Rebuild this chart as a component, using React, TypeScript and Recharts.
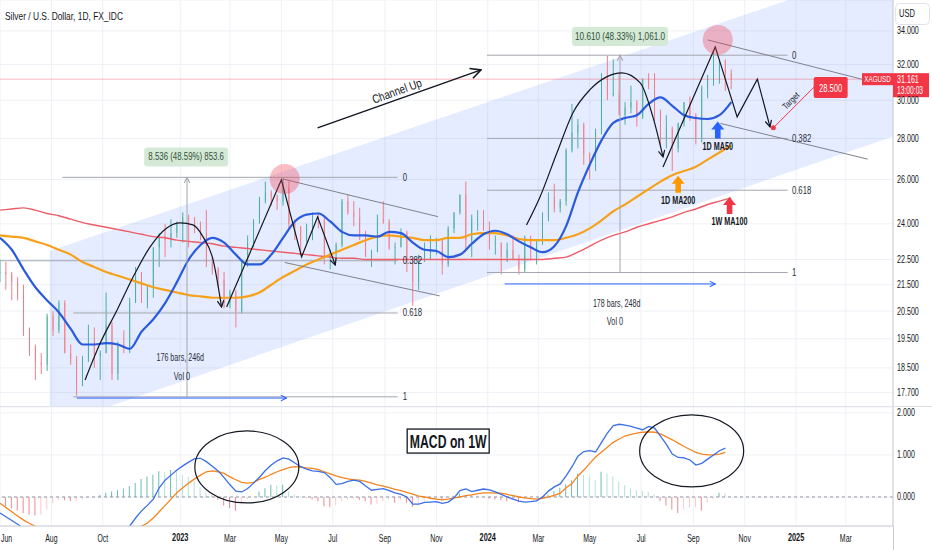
import React from 'react';
import {
  ComposedChart, Bar, Line, Area, XAxis, YAxis, CartesianGrid,
  ReferenceLine, ReferenceDot, Cell,
} from 'recharts';

const FONT = "'Liberation Sans', Arial, sans-serif";
const INK = '#131722';
const GRID = '#eef1f6';
const UP = '#4cae9f';
const DOWN = '#ef7d87';
const BLUE = '#2a5bde';
const ORANGE = '#f7a11a';
const RED_MA = '#ec5d67';
const FIB = '#a3a6af';
const RANGE_BLUE = '#2962ff';
const TV_RED = '#f23645';

// ---------- categories ----------
const START = '2022-06-01';
const SPAN_DAYS = 1060;
const WEEK = 7;
const MA_STEP = 14;
const tickDates = ['2022-06-01', '2022-08-01', '2022-10-01', '2023-01-01', '2023-03-01', '2023-05-01', '2023-07-01', '2023-09-01', '2023-11-01', '2024-01-01', '2024-03-01', '2024-05-01', '2024-07-01', '2024-09-01', '2024-11-01', '2025-01-01', '2025-03-01'];
const tickLabels = ['Jun', 'Aug', 'Oct', '2023', 'Mar', 'May', 'Jul', 'Sep', 'Nov', '2024', 'Mar', 'May', 'Jul', 'Sep', 'Nov', '2025', 'Mar'];
const priceTicks = [17.7, 18.5, 19.5, 20.5, 21.5, 22.5, 24, 26, 28, 30, 32, 34];
const macdTicks = [0, 1, 2];
const lastPrice = 31.161;
const lastTimer = '13:00:03';
const targetPrice = 28.5;

// ---------- weekly candles (Jun 2022 - Oct 2024) ----------
const opens = [22.0, 22.0, 21.9, 21.6, 21.1, 19.8, 19.2, 18.7, 18.6, 20.3, 19.8, 20.8, 19.0, 18.8, 18.0, 18.8, 19.4, 18.9, 19.0, 20.0, 18.3, 19.3, 19.2, 20.8, 21.8, 20.9, 21.4, 23.0, 23.5, 23.3, 23.6, 24.0, 24.3, 24.2, 23.9, 23.6, 22.4, 22.1, 21.7, 20.8, 21.2, 20.5, 22.4, 23.2, 24.1, 25.0, 25.4, 25.2, 25.0, 25.6, 24.0, 23.9, 23.3, 23.9, 24.3, 24.2, 22.7, 22.8, 23.1, 25.0, 24.5, 24.3, 23.6, 22.7, 22.8, 24.2, 24.1, 23.0, 23.0, 23.6, 22.4, 21.6, 22.6, 23.0, 23.3, 23.3, 22.3, 23.8, 24.5, 25.3, 23.3, 24.2, 24.2, 23.8, 23.2, 23.2, 22.6, 22.9, 22.5, 22.1, 23.4, 22.9, 23.2, 24.3, 25.2, 24.7, 25.0, 27.4, 28.3, 28.7, 27.2, 26.6, 28.3, 31.3, 30.3, 30.4, 29.2, 29.6, 29.9, 29.1, 31.1, 30.8, 29.2, 28.0, 28.5, 27.5, 28.8, 29.9, 29.2, 28.0, 30.7, 31.3, 31.6, 32.2, 31.5];
const highs = [22.5, 22.4, 22.0, 21.8, 21.5, 19.9, 19.3, 19.0, 20.4, 20.5, 20.9, 20.9, 19.3, 18.9, 18.9, 20.0, 19.9, 19.1, 21.2, 20.1, 19.4, 19.8, 21.0, 22.2, 22.0, 21.5, 23.0, 23.6, 24.0, 24.2, 24.1, 24.5, 24.4, 24.3, 24.1, 24.6, 22.6, 22.2, 22.0, 21.3, 21.3, 22.4, 23.5, 24.2, 25.2, 25.9, 25.5, 25.3, 26.1, 25.9, 24.2, 23.9, 24.0, 24.5, 24.5, 24.3, 22.9, 23.2, 25.1, 25.3, 25.0, 24.7, 23.7, 22.9, 24.4, 25.0, 24.2, 23.2, 23.8, 23.7, 22.5, 22.7, 23.2, 23.5, 23.4, 23.3, 23.9, 24.5, 25.3, 25.9, 24.4, 24.6, 24.6, 24.1, 23.5, 23.2, 23.2, 23.5, 22.7, 23.5, 23.5, 23.3, 24.5, 25.4, 25.8, 25.1, 27.5, 29.8, 29.0, 28.8, 27.3, 28.5, 31.5, 32.5, 32.3, 31.5, 29.9, 30.8, 30.0, 31.2, 31.5, 31.5, 29.5, 29.2, 28.6, 28.8, 29.9, 30.2, 29.3, 30.8, 31.4, 32.8, 32.2, 32.3, 31.7];
const lows = [21.6, 21.3, 20.9, 20.9, 19.6, 18.9, 18.1, 18.3, 18.4, 19.6, 19.7, 19.0, 18.6, 17.6, 17.9, 18.7, 18.5, 18.1, 19.0, 18.1, 18.1, 19.0, 19.0, 20.8, 20.8, 20.6, 21.0, 22.2, 22.6, 23.0, 23.4, 23.2, 23.0, 23.6, 23.3, 22.2, 21.9, 21.4, 20.6, 20.6, 19.9, 20.4, 22.2, 23.0, 24.0, 24.9, 24.8, 24.6, 24.8, 23.8, 23.3, 22.7, 23.2, 23.3, 23.8, 22.3, 22.1, 22.5, 23.0, 24.4, 23.9, 23.3, 22.6, 22.2, 22.8, 24.0, 22.9, 22.3, 23.0, 22.0, 20.7, 21.3, 22.4, 22.5, 22.7, 21.9, 22.2, 23.6, 24.4, 22.9, 22.6, 23.7, 23.7, 22.9, 22.7, 21.9, 22.4, 22.5, 21.9, 22.0, 22.5, 22.3, 23.1, 24.1, 24.5, 24.5, 24.8, 27.3, 27.5, 26.7, 26.0, 26.4, 28.2, 30.0, 30.2, 29.2, 28.7, 29.3, 28.6, 29.0, 30.6, 28.9, 27.6, 27.5, 26.4, 27.3, 28.6, 28.9, 27.7, 27.8, 30.1, 30.8, 30.9, 30.5, 30.6];
const closes = [22.0, 21.9, 21.6, 21.1, 19.8, 19.2, 18.7, 18.6, 20.3, 19.8, 20.8, 19.0, 18.8, 18.0, 18.8, 19.4, 18.9, 19.0, 20.0, 18.3, 19.3, 19.2, 20.8, 21.8, 20.9, 21.4, 23.0, 23.5, 23.3, 23.6, 24.0, 24.3, 24.2, 23.9, 23.6, 22.4, 22.1, 21.7, 20.8, 21.2, 20.5, 22.4, 23.2, 24.1, 25.0, 25.4, 25.2, 25.0, 25.6, 24.0, 23.9, 23.3, 23.9, 24.3, 24.2, 22.7, 22.8, 23.1, 25.0, 24.5, 24.3, 23.6, 22.7, 22.8, 24.2, 24.1, 23.0, 23.0, 23.6, 22.4, 21.6, 22.6, 23.0, 23.3, 23.3, 22.3, 23.8, 24.5, 25.3, 23.3, 24.2, 24.2, 23.8, 23.2, 23.2, 22.6, 22.9, 22.5, 22.1, 23.4, 22.9, 23.2, 24.3, 25.2, 24.7, 25.0, 27.4, 28.3, 28.7, 27.2, 26.6, 28.3, 31.3, 30.3, 30.4, 29.2, 29.6, 29.9, 29.1, 31.1, 30.8, 29.2, 28.0, 28.5, 27.5, 28.8, 29.9, 29.2, 28.0, 30.7, 31.3, 31.6, 32.2, 31.5, 31.2];

// ---------- moving averages (every 2 weeks) ----------
const ma50 = [23.4, 22.9, 22.1, 21.4, 20.9, 20.45, 19.85, 19.3, 19.3, 19.35, 19.3, 19.15, 19.75, 20.2, 20.8, 21.6, 22.5, 23.1, 23.4, 23.2, 22.7, 22.3, 22.3, 22.7, 23.4, 24.1, 24.4, 24.45, 24.1, 23.65, 23.5, 23.5, 23.45, 23.65, 23.6, 23.2, 22.9, 22.85, 22.6, 22.7, 23.15, 23.55, 23.7, 23.55, 23.25, 23.0, 22.8, 23.05, 23.9, 25.4, 26.7, 27.9, 28.8, 29.05, 29.2, 29.8, 30.15, 29.7, 29.2, 29.05, 29.0, 29.2, 29.9];
const ma200 = [23.5, 23.45, 23.4, 23.25, 23.1, 22.9, 22.7, 22.4, 22.2, 22.0, 21.85, 21.7, 21.55, 21.4, 21.3, 21.2, 21.1, 21.05, 21.0, 21.0, 21.0, 21.05, 21.2, 21.5, 21.8, 22.05, 22.3, 22.5, 22.7, 22.9, 23.1, 23.3, 23.45, 23.5, 23.45, 23.4, 23.3, 23.3, 23.4, 23.4, 23.55, 23.6, 23.6, 23.5, 23.35, 23.3, 23.3, 23.3, 23.4, 23.55, 23.8, 24.15, 24.55, 24.85, 25.2, 25.55, 25.9, 26.2, 26.4, 26.6, 26.95, 27.3, 27.65];
const ma100w = [24.6, 24.65, 24.7, 24.6, 24.45, 24.35, 24.2, 24.05, 23.95, 23.85, 23.75, 23.65, 23.55, 23.45, 23.4, 23.3, 23.25, 23.2, 23.15, 23.05, 23.0, 22.95, 22.9, 22.85, 22.8, 22.75, 22.7, 22.65, 22.6, 22.55, 22.55, 22.5, 22.5, 22.5, 22.5, 22.5, 22.5, 22.5, 22.5, 22.5, 22.5, 22.5, 22.5, 22.5, 22.5, 22.5, 22.5, 22.55, 22.6, 22.8, 23.05, 23.3, 23.5, 23.65, 23.85, 24.0, 24.15, 24.3, 24.5, 24.65, 24.85, 25.0, 25.15];

// ---------- MACD 1W (weekly) ----------
const macdLine = [-0.38, -0.47, -0.56, -0.65, -0.75, -0.85, -0.95, -1.02, -1.05, -1.05, -1.02, -1.02, -1.05, -1.08, -1.08, -1.05, -1.02, -0.98, -0.92, -0.9, -0.85, -0.78, -0.69, -0.5, -0.33, -0.2, -0.05, 0.22, 0.4, 0.52, 0.64, 0.74, 0.83, 0.91, 0.92, 0.84, 0.73, 0.62, 0.46, 0.29, 0.14, 0.12, 0.2, 0.33, 0.47, 0.63, 0.76, 0.86, 0.93, 0.9, 0.81, 0.72, 0.66, 0.62, 0.61, 0.58, 0.46, 0.3, 0.32, 0.37, 0.4, 0.37, 0.26, 0.16, 0.18, 0.2, 0.15, 0.1, 0.06, 0.0, -0.17, -0.17, -0.13, -0.12, -0.11, -0.15, -0.12, -0.02, 0.15, 0.19, 0.13, 0.16, 0.19, 0.17, 0.12, 0.06, 0.0, -0.05, -0.1, -0.12, -0.11, -0.09, 0.0, 0.14, 0.24, 0.31, 0.5, 0.72, 0.97, 1.08, 1.1, 1.07, 1.3, 1.52, 1.7, 1.73, 1.71, 1.68, 1.64, 1.6, 1.68, 1.64, 1.45, 1.25, 1.02, 0.94, 0.93, 0.88, 0.76, 0.8, 0.9, 1.0, 1.1, 1.16];
const signalLine = [-0.15, -0.25, -0.35, -0.45, -0.55, -0.63, -0.7, -0.77, -0.83, -0.88, -0.92, -0.95, -0.97, -0.99, -1.0, -1.01, -1.01, -1.0, -0.99, -0.97, -0.95, -0.91, -0.87, -0.8, -0.7, -0.62, -0.5, -0.35, -0.2, -0.05, 0.1, 0.22, 0.33, 0.43, 0.52, 0.6, 0.62, 0.6, 0.56, 0.48, 0.41, 0.35, 0.33, 0.35, 0.42, 0.47, 0.54, 0.6, 0.65, 0.7, 0.72, 0.71, 0.69, 0.68, 0.65, 0.6, 0.55, 0.5, 0.46, 0.43, 0.41, 0.4, 0.37, 0.33, 0.29, 0.26, 0.22, 0.18, 0.15, 0.11, 0.07, 0.02, 0.0, -0.03, -0.05, -0.07, -0.05, -0.02, 0.0, 0.03, 0.05, 0.08, 0.1, 0.1, 0.09, 0.09, 0.06, 0.03, 0.0, -0.02, -0.04, -0.05, -0.03, 0.0, 0.04, 0.09, 0.22, 0.32, 0.5, 0.64, 0.8, 0.95, 1.07, 1.18, 1.3, 1.38, 1.45, 1.49, 1.52, 1.54, 1.55, 1.54, 1.5, 1.43, 1.36, 1.28, 1.2, 1.13, 1.06, 1.02, 1.0, 1.0, 1.02, 1.06];
const histogram = [-0.18, -0.22, -0.28, -0.33, -0.38, -0.42, -0.44, -0.42, -0.3, -0.15, -0.06, -0.08, -0.1, -0.1, -0.06, -0.03, 0.0, 0.05, 0.1, 0.13, 0.16, 0.2, 0.26, 0.33, 0.43, 0.49, 0.53, 0.61, 0.59, 0.64, 0.61, 0.53, 0.48, 0.37, 0.24, 0.13, 0.06, -0.06, -0.2, -0.26, -0.33, -0.18, -0.05, 0.0, 0.13, 0.21, 0.29, 0.27, 0.29, 0.13, 0.06, 0.01, -0.02, -0.06, -0.1, -0.22, -0.24, -0.2, -0.1, -0.06, -0.05, -0.07, -0.1, -0.18, -0.16, -0.1, -0.06, -0.14, -0.06, -0.14, -0.24, -0.16, -0.1, -0.05, -0.04, -0.08, -0.02, 0.03, 0.08, 0.06, 0.05, 0.04, 0.01, -0.04, -0.06, -0.08, -0.1, -0.08, -0.12, -0.04, -0.02, 0.0, 0.02, 0.06, 0.14, 0.22, 0.3, 0.4, 0.55, 0.52, 0.48, 0.4, 0.6, 0.56, 0.49, 0.36, 0.28, 0.2, 0.16, 0.14, 0.12, 0.06, -0.1, -0.2, -0.3, -0.38, -0.3, -0.25, -0.24, -0.33, -0.14, -0.04, 0.1, 0.08];

// ---------- drawings (day, price) ----------
const channelBand = [{ t: 59, band: [16.63, 22.85] }, { t: SPAN_DAYS, band: [28.1, 38.33] }];
const fibLevels = ['0', '0.382', '0.618', '1'];
const fibLeftPrices = [26.1, 22.45, 20.43, 17.56];
const fibLeftStarts = [74, 0, 87, 87];
const fibLeftEnd = 472;
const fibLeftLabelDay = 478;
const fibRightPrices = [32.54, 28.0, 25.5, 21.98];
const fibRightStart = 578;
const fibRightEnd = 935;
const fibRightLabelDay = 940;

const arcLeftDays = [101, 119, 139, 158, 178, 198, 214, 229, 241, 253, 263];
const arcLeftPrices = [18.1, 19.35, 20.54, 21.8, 23.01, 23.82, 24.04, 23.95, 23.44, 22.48, 20.65];
const zigLeftDays = [269, 334, 358, 377, 398];
const zigLeftPrices = [20.65, 25.98, 22.61, 24.3, 22.28];
const arcRightDays = [625, 641, 661, 680, 700, 720, 738, 760, 775, 787];
const arcRightPrices = [23.95, 25.19, 27.27, 29.32, 30.56, 31.29, 31.52, 30.95, 29.11, 27.08];
const zigRightDays = [787, 849, 875, 899, 914];
const zigRightPrices = [26.59, 33.03, 29.11, 31.16, 28.59];

const pts = (days: number[], prices: number[]) => days.map((t, k) => ({ t, p: prices[k] }));
const arcLeft = pts(arcLeftDays, arcLeftPrices);
const zigLeft = pts(zigLeftDays, zigLeftPrices);
const arcRight = pts(arcRightDays, arcRightPrices);
const zigRight = pts(zigRightDays, zigRightPrices);

const dayOf = (s: string) => Math.round((Date.parse(s + 'T00:00:00Z') - Date.parse(START + 'T00:00:00Z')) / 86400000);
const tickDays = tickDates.map(dayOf);

const priceRows = opens.map((o, i) => ({ t: i * WEEK, o, h: highs[i], l: lows[i], c: closes[i] }));
const maRows = ma50.map((v, k) => ({ t: k * MA_STEP, ma50: v, ma200: ma200[k], ma100w: ma100w[k] }));
const macdRows = macdLine.map((m, i) => ({ t: i * WEEK, macd: m, signal: signalLine[i], hist: histogram[i] }));

// ---------- helpers ----------
const CText = ({ x, y, text, size = 10, sx = 0.75, weight = 400, fill = INK, anchor = 'middle', rotate = 0 }: any) => (
  <text
    transform={`translate(${x},${y}) rotate(${rotate}) scale(${sx},1)`}
    fontSize={size}
    fontWeight={weight}
    fill={fill}
    textAnchor={anchor}
    dominantBaseline="central"
    fontFamily={FONT}
  >
    {text}
  </text>
);

const candleRange = (d: any) => [d.l, d.h];

const renderCandle = (p: any) => {
  const { x, y, width, height, payload } = p;
  if (!payload || !isFinite(y) || !isFinite(height)) return <g />;
  const { o, h, l, c } = payload;
  const lh = Math.log(h);
  const span = lh - Math.log(l) || 1;
  const py = (v: number) => y + ((lh - Math.log(v)) / span) * height;
  const color = c >= o ? UP : DOWN;
  const mid = x + width / 2;
  const top = py(Math.max(o, c));
  const bot = py(Math.min(o, c));
  return (
    <g>
      <line x1={mid} x2={mid} y1={y} y2={y + height} stroke={color} strokeWidth={1} />
      <rect x={x} y={top} width={width} height={Math.max(1, bot - top)} fill={color} />
    </g>
  );
};

const PriceTick = (p: any) => (
  <CText x={p.x} y={p.y} text={Number(p.payload.value).toFixed(3)} size={10.5} sx={0.68} anchor="start" />
);
const TimeTick = (p: any) => {
  const idx = tickDays.indexOf(p.payload.value);
  const label = tickLabels[idx] ?? '';
  const year = /^\d{4}$/.test(label);
  const first = idx === 0;
  return (
    <CText
      x={first ? p.x + 1 : p.x}
      y={p.y + 12}
      text={label}
      size={10.5}
      sx={year ? 0.7 : 0.66}
      weight={year ? 700 : 400}
      anchor={first ? 'start' : 'middle'}
    />
  );
};

const textShape = (text: string, opts: any = {}) => (p: any) => <CText x={p.cx} y={p.cy} text={text} {...opts} />;
const rangeBox = (text: string, w: number, sx: number) => (p: any) => (
  <g>
    <rect x={p.cx - w / 2} y={p.cy - 9.5} width={w} height={19} rx={3} fill="#d4ead6" />
    <CText x={p.cx} y={p.cy} text={text} size={10.5} sx={sx} fill="#33503a" />
  </g>
);
const pinkCircle = (p: any) => <circle cx={p.cx} cy={p.cy} r={15} fill={TV_RED} fillOpacity={0.32} />;
const maArrow = (color: string, label: string) => (p: any) => {
  const { cx, cy } = p;
  const shape = [[0, 0], [6.5, 8], [2.8, 8], [2.8, 17], [-2.8, 17], [-2.8, 8], [-6.5, 8]]
    .map(([dx, dy]) => `${cx + dx},${cy + dy}`)
    .join(' ');
  return (
    <g>
      <polygon points={shape} fill={color} />
      <CText x={cx} y={cy + 25} text={label} size={10} sx={0.72} weight={700} />
    </g>
  );
};
const priceTag = (p: any) => {
  const { cx, cy } = p;
  return (
    <g>
      <rect x={cx - 31} y={cy - 6} width={31} height={12} fill={TV_RED} />
      <CText x={cx - 15.5} y={cy} text="XAGUSD" size={9.5} sx={0.66} fill="#fff" />
      <rect x={cx} y={cy - 6} width={36} height={24} fill={TV_RED} />
      <CText x={cx + 4} y={cy + 0.5} text={lastPrice.toFixed(3)} size={10.5} sx={0.68} fill="#fff" anchor="start" />
      <CText x={cx + 4} y={cy + 11.5} text={lastTimer} size={10.5} sx={0.64} fill="#fff" anchor="start" />
    </g>
  );
};
const targetBox = (p: any) => (
  <g>
    <rect x={p.cx - 17} y={p.cy - 10.5} width={34} height={21} rx={2} fill={TV_RED} />
    <CText x={p.cx} y={p.cy} text={targetPrice.toFixed(3)} size={11.5} sx={0.66} fill="#fff" />
  </g>
);
const ellipseShape = (p: any) => <ellipse cx={p.cx} cy={p.cy} rx={52} ry={36} fill="none" stroke={INK} strokeWidth={1.2} />;
const macdTitle = (p: any) => (
  <g>
    <rect x={p.cx - 41} y={p.cy - 12} width={82} height={24} fill="#fff" stroke={INK} strokeWidth={1.3} />
    <CText x={p.cx} y={p.cy + 1} text="MACD on 1W" size={18} sx={0.68} weight={700} />
  </g>
);
const histColor = (i: number) => {
  const v = histogram[i];
  const prev = i > 0 ? histogram[i - 1] : 0;
  if (v >= 0) return v >= prev ? '#6cbcb0' : '#b5dfd9';
  return v < prev ? '#f08690' : '#f9c9cf';
};

const seg = (t1: number, p1: number, t2: number, p2: number) => [{ x: t1, y: p1 }, { x: t2, y: p2 }];

export default function App() {
  return (
    <div style={{ position: 'absolute', left: 0, top: 0, width: 932, height: 550, background: '#fff', overflow: 'hidden', fontFamily: FONT }}>
      <svg width={0} height={0} style={{ position: 'absolute' }}>
        <defs>
          <marker id="ahBlack" viewBox="0 0 10 10" refX="9" refY="5" markerWidth="8" markerHeight="8" orient="auto" markerUnits="userSpaceOnUse">
            <path d="M1,1 L9,5 L1,9" fill="none" stroke={INK} strokeWidth={1.5} />
          </marker>
          <marker id="ahBig" viewBox="0 0 10 10" refX="9" refY="5" markerWidth="13" markerHeight="13" orient="auto" markerUnits="userSpaceOnUse">
            <path d="M1,1 L9,5 L1,9" fill="none" stroke={INK} strokeWidth={1.2} />
          </marker>
          <marker id="ahBlue" viewBox="0 0 10 10" refX="9" refY="5" markerWidth="7" markerHeight="7" orient="auto" markerUnits="userSpaceOnUse">
            <path d="M1,1 L9,5 L1,9" fill="none" stroke={RANGE_BLUE} strokeWidth={1.5} />
          </marker>
          <marker id="ahGray" viewBox="0 0 10 10" refX="9" refY="5" markerWidth="7" markerHeight="7" orient="auto" markerUnits="userSpaceOnUse">
            <path d="M1,1 L9,5 L1,9" fill="none" stroke={FIB} strokeWidth={1.5} />
          </marker>
        </defs>
      </svg>

      <div style={{ position: 'absolute', left: 0, top: 0 }}>
        <ComposedChart width={932} height={407} data={priceRows} margin={{ top: 0, right: 0, bottom: 0, left: 0 }}>
          <CartesianGrid stroke={GRID} />
          <XAxis type="number" dataKey="t" domain={[0, SPAN_DAYS]} ticks={tickDays} allowDataOverflow hide />
          <YAxis
            orientation="right"
            scale="log"
            domain={[17.24, 35.95]}
            ticks={priceTicks}
            allowDataOverflow
            width={39}
            interval={0}
            axisLine={{ stroke: '#c9ccd4' }}
            tickLine={false}
            tickSize={0}
            tickMargin={4}
            tick={PriceTick}
          />
          <Area data={channelBand} dataKey="band" type="linear" stroke="none" fill={RANGE_BLUE} fillOpacity={0.12} isAnimationActive={false} dot={false} activeDot={false} />
          <ReferenceLine y={lastPrice} stroke={TV_RED} strokeOpacity={0.35} />

          {fibLeftPrices.map((p, k) => (
            <ReferenceLine key={'fl' + k} segment={seg(fibLeftStarts[k], p, fibLeftEnd, p)} stroke={FIB} />
          ))}
          {fibRightPrices.map((p, k) => (
            <ReferenceLine key={'fr' + k} segment={seg(fibRightStart, p, fibRightEnd, p)} stroke={FIB} />
          ))}

          <Bar dataKey={candleRange} barSize={4} shape={renderCandle} isAnimationActive={false} />

          <Line data={maRows} dataKey="ma100w" type="monotone" stroke={RED_MA} strokeWidth={1.4} dot={false} activeDot={false} isAnimationActive={false} />
          <Line data={maRows} dataKey="ma200" type="monotone" stroke={ORANGE} strokeWidth={2.2} dot={false} activeDot={false} isAnimationActive={false} />
          <Line data={maRows} dataKey="ma50" type="monotone" stroke={BLUE} strokeWidth={2.2} dot={false} activeDot={false} isAnimationActive={false} />

          {/* descending sub-channels */}
          <ReferenceLine segment={seg(336, 26.02, 520, 24.31)} stroke="#80838d" />
          <ReferenceLine segment={seg(338, 22.38, 522, 21.07)} stroke="#80838d" />
          <ReferenceLine segment={seg(840, 33.45, 1023, 31.16)} stroke="#80838d" />
          <ReferenceLine segment={seg(855, 28.77, 1030, 26.97)} stroke="#80838d" />

          {/* date / price ranges */}
          <ReferenceLine segment={seg(222, 17.56, 222, 26.1)} stroke={FIB} markerEnd="url(#ahGray)" />
          <ReferenceLine segment={seg(91, 17.52, 340, 17.52)} stroke={RANGE_BLUE} markerEnd="url(#ahBlue)" />
          <ReferenceLine segment={seg(736, 21.98, 736, 32.54)} stroke={FIB} markerEnd="url(#ahGray)" />
          <ReferenceLine segment={seg(599, 21.53, 849, 21.53)} stroke={RANGE_BLUE} markerEnd="url(#ahBlue)" />

          {/* projections */}
          <Line data={arcLeft} dataKey="p" type="monotone" stroke={INK} strokeWidth={1.2} dot={false} activeDot={false} isAnimationActive={false} markerEnd="url(#ahBlack)" />
          <Line data={zigLeft} dataKey="p" type="linear" stroke={INK} strokeWidth={1.2} dot={false} activeDot={false} isAnimationActive={false} markerEnd="url(#ahBlack)" />
          <Line data={arcRight} dataKey="p" type="monotone" stroke={INK} strokeWidth={1.2} dot={false} activeDot={false} isAnimationActive={false} markerEnd="url(#ahBlack)" />
          <Line data={zigRight} dataKey="p" type="linear" stroke={INK} strokeWidth={1.2} dot={false} activeDot={false} isAnimationActive={false} markerEnd="url(#ahBlack)" />
          <ReferenceLine segment={seg(377, 28.54, 571, 31.69)} stroke={INK} strokeWidth={1.5} markerEnd="url(#ahBig)" />
          <ReferenceLine segment={seg(918, 28.54, 967, 30.75)} stroke={TV_RED} strokeWidth={1} />

          <ReferenceDot x={338} y={26.02} r={15} ifOverflow="visible" shape={pinkCircle} />
          <ReferenceDot x={852} y={33.45} r={15} ifOverflow="visible" shape={pinkCircle} />
          <ReferenceDot x={918} y={28.54} r={2.5} ifOverflow="visible" fill={TV_RED} stroke="none" />

          {fibLevels.map((lv, k) => (
            <ReferenceDot key={'lfl' + k} x={fibLeftLabelDay} y={fibLeftPrices[k]} r={1} ifOverflow="visible" shape={textShape(lv, { size: 10.5, sx: 0.74, anchor: 'start', fill: '#2a2e39' })} />
          ))}
          {fibLevels.map((lv, k) => (
            <ReferenceDot key={'lfr' + k} x={fibRightLabelDay} y={fibRightPrices[k]} r={1} ifOverflow="visible" shape={textShape(lv, { size: 10.5, sx: 0.74, anchor: 'start', fill: '#2a2e39' })} />
          ))}

          <ReferenceDot x={221} y={27.08} r={1} ifOverflow="visible" shape={rangeBox('8.536 (48.59%) 853.6', 84, 0.75)} />
          <ReferenceDot x={736} y={33.66} r={1} ifOverflow="visible" shape={rangeBox('10.610 (48.33%) 1,061.0', 96, 0.78)} />
          <ReferenceDot x={214} y={18.84} r={1} ifOverflow="visible" shape={textShape('176 bars, 246d', { size: 10.5, sx: 0.68, fill: '#2a2e39' })} />
          <ReferenceDot x={216} y={18.23} r={1} ifOverflow="visible" shape={textShape('Vol 0', { size: 10.5, sx: 0.7, fill: '#2a2e39' })} />
          <ReferenceDot x={732} y={20.8} r={1} ifOverflow="visible" shape={textShape('178 bars, 248d', { size: 10.5, sx: 0.68, fill: '#2a2e39' })} />
          <ReferenceDot x={730} y={20.1} r={1} ifOverflow="visible" shape={textShape('Vol 0', { size: 10.5, sx: 0.7, fill: '#2a2e39' })} />

          <ReferenceDot x={471} y={30.51} r={1} ifOverflow="visible" shape={textShape('Channel Up', { size: 12, sx: 0.82, rotate: -20 })} />
          <ReferenceDot x={939} y={29.96} r={1} ifOverflow="visible" shape={textShape('Target', { size: 9, sx: 0.8, rotate: -45 })} />
          <ReferenceDot x={986} y={30.69} r={1} ifOverflow="visible" shape={targetBox} />

          <ReferenceDot x={852} y={28.87} r={1} ifOverflow="visible" shape={maArrow('#2962ff', '1D MA50')} />
          <ReferenceDot x={805} y={26.17} r={1} ifOverflow="visible" shape={maArrow('#ff9800', '1D MA200')} />
          <ReferenceDot x={866} y={25.19} r={1} ifOverflow="visible" shape={maArrow('#f23645', '1W MA100')} />

          <ReferenceDot x={SPAN_DAYS} y={lastPrice} r={1} ifOverflow="visible" shape={priceTag} />
        </ComposedChart>
      </div>

      <div style={{ position: 'absolute', left: 0, top: 407 }}>
        <ComposedChart width={932} height={143} data={macdRows} margin={{ top: 0, right: 0, bottom: 0, left: 0 }}>
          <CartesianGrid stroke={GRID} />
          <XAxis
            type="number"
            dataKey="t"
            domain={[0, SPAN_DAYS]}
            ticks={tickDays}
            allowDataOverflow
            height={24}
            interval={0}
            tickLine={false}
            tickSize={0}
            tickMargin={0}
            axisLine={{ stroke: '#c9ccd4' }}
            tick={TimeTick}
          />
          <YAxis
            orientation="right"
            domain={[-0.69, 2.14]}
            ticks={macdTicks}
            allowDataOverflow
            width={39}
            interval={0}
            axisLine={{ stroke: '#c9ccd4' }}
            tickLine={false}
            tickSize={0}
            tickMargin={4}
            tick={PriceTick}
          />
          <ReferenceLine y={0} stroke="#9598a1" strokeDasharray="3 3" />
          <Bar dataKey="hist" barSize={1} isAnimationActive={false}>
            {macdRows.map((r, i) => (
              <Cell key={i} fill={histColor(i)} />
            ))}
          </Bar>
          <Line dataKey="signal" type="linear" stroke="#f5841f" strokeWidth={1.3} dot={false} activeDot={false} isAnimationActive={false} />
          <Line dataKey="macd" type="linear" stroke="#3a6fe6" strokeWidth={1.3} dot={false} activeDot={false} isAnimationActive={false} />
          <ReferenceDot x={293} y={0.714} r={1} ifOverflow="visible" shape={ellipseShape} />
          <ReferenceDot x={821} y={1.095} r={1} ifOverflow="visible" shape={ellipseShape} />
          <ReferenceDot x={532} y={1.33} r={1} ifOverflow="visible" shape={macdTitle} />
        </ComposedChart>
      </div>

      <div style={{ position: 'absolute', left: 0, top: 406, width: 932, height: 1, background: '#dfe2ea' }} />
      <div style={{ position: 'absolute', left: 893, top: 526, width: 1, height: 24, background: '#c9ccd4' }} />

      <svg width={932} height={30} style={{ position: 'absolute', left: 0, top: 0, pointerEvents: 'none' }}>
        <CText x={5} y={16} text="Silver / U.S. Dollar, 1D, FX_IDC" size={10.5} sx={0.8} anchor="start" />
        <rect x={895.5} y={3.5} width={34} height={21} rx={4} fill="#fff" stroke="#e0e3eb" />
        <CText x={899} y={14} text="USD" size={10.5} sx={0.72} anchor="start" />
      </svg>
    </div>
  );
}
